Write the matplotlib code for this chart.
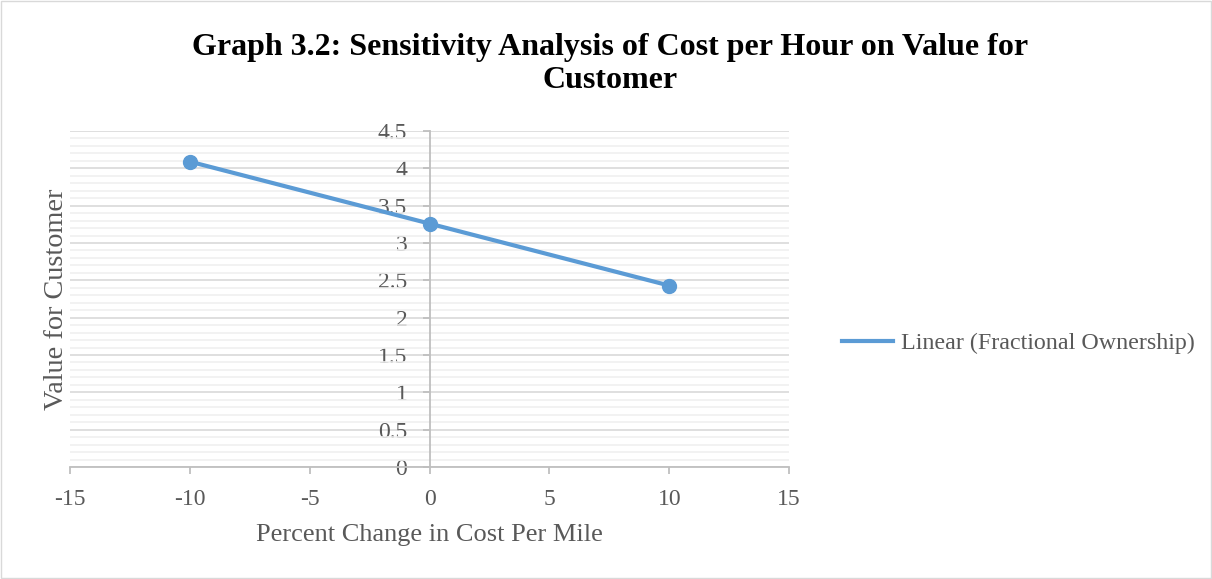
import numpy as np
import matplotlib.pyplot as plt
from matplotlib.ticker import MultipleLocator

# Sensitivity of customer value to a change in cost per hour
pct_change = [-10, 0, 10]
value_for_customer = [4.09, 3.26, 2.43]
y_ticks = [0, 0.5, 1, 1.5, 2, 2.5, 3, 3.5, 4, 4.5]
y_tick_labels = ['0', '0.5', '1', '1.5', '2', '2.5', '3', '3.5', '4', '4.5']

plt.rcParams['font.family'] = ['Liberation Serif', 'DejaVu Serif']
plt.rcParams['axes.unicode_minus'] = False

blue = '#5b9bd5'
axis_grey = '#bfbfbf'
text_grey = '#595959'

fig = plt.figure(figsize=(12.12, 5.79), dpi=100)
ax = fig.add_axes([0.0578, 0.1934, 0.5933, 0.5803])

# data points
ax.plot(pct_change, value_for_customer, 'o', color=blue, markersize=10, zorder=4)

# linear trendline through the points
coef = np.polyfit(pct_change, value_for_customer, 1)
xs = np.array([min(pct_change), max(pct_change)])
ax.plot(xs, np.polyval(coef, xs), color=blue, linewidth=3,
        label='Linear (Fractional Ownership)', zorder=3)

ax.set_xlim(-15, 15)
ax.set_ylim(0, 4.5)
ax.xaxis.set_major_locator(MultipleLocator(5))
ax.yaxis.set_minor_locator(MultipleLocator(0.1))
ax.set_yticks(y_ticks)
ax.set_yticklabels(y_tick_labels)

ax.grid(axis='y', which='major', color='#d9d9d9', linewidth=1.2, zorder=0)
ax.grid(axis='y', which='minor', color='#f0f0f0', linewidth=1.2, zorder=0)
ax.set_axisbelow(True)

for side in ['top', 'right']:
    ax.spines[side].set_visible(False)
ax.spines['left'].set_position(('data', 0))
for side in ['left', 'bottom']:
    ax.spines[side].set_color(axis_grey)
    ax.spines[side].set_linewidth(1.3)

ax.tick_params(axis='both', which='major', colors=axis_grey, labelcolor=text_grey,
               labelsize=17, length=5, width=1.3, direction='out')
ax.tick_params(axis='y', which='minor', length=0)
ax.tick_params(axis='y', pad=11)
ax.tick_params(axis='x', pad=11)

ax.set_xlabel('Percent Change in Cost Per Mile', fontsize=19, color=text_grey, labelpad=10)
ax.set_ylabel('Value for Customer', fontsize=20.3, color=text_grey)
ax.yaxis.set_label_coords(-0.002, 0.5)

fig.text(0.503, 0.943, 'Graph 3.2: Sensitivity Analysis of Cost per Hour on Value for\nCustomer',
         ha='center', va='top', fontsize=23, fontweight='bold', linespacing=1.2)

fig.legend(loc='center left', bbox_to_anchor=(0.695, 0.407), frameon=False,
           fontsize=17.3, handlelength=2.1, handletextpad=0.35, labelcolor=text_grey,
           borderaxespad=0, borderpad=0)

fig.patches.append(plt.Rectangle((0.001, 0.001), 0.998, 0.998, transform=fig.transFigure,
                                 fill=False, edgecolor='#d9d9d9', linewidth=1))

fig.savefig('out.png', dpi=100)
